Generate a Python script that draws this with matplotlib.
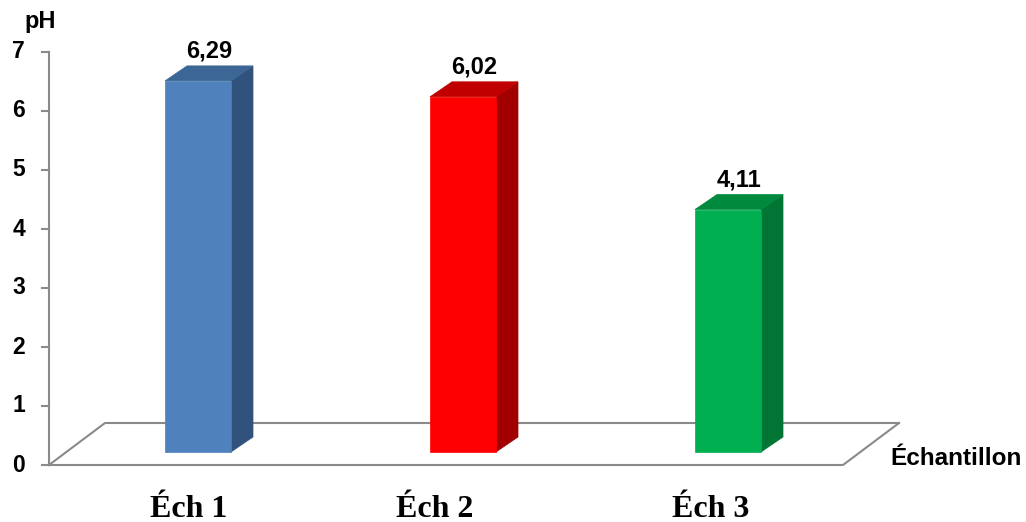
import numpy as np
import matplotlib.pyplot as plt
from matplotlib.patches import Polygon

# --- data ---
categories = ["Éch 1", "Éch 2", "Éch 3"]
ph_values = [6.29, 6.02, 4.11]
value_labels = ["6,29", "6,02", "4,11"]
y_ticks = [0, 1, 2, 3, 4, 5, 6, 7]

# face colours: front, side, top
front_cols = ["#4F81BD", "#FF0000", "#00B050"]
side_cols = ["#30527C", "#A20000", "#007534"]
top_cols = ["#3B6695", "#C00000", "#008A3E"]

# --- layout (pixel sizes converted to data units) ---
PX_X = 265.0   # px per category step
PX_Y = 59.0    # px per pH unit
W, H, DPI = 1026, 522, 100

def px(dx):
    return dx / PX_X

def py(dy):
    return dy / PX_Y

bar_w = px(66)
bar_base = py(13)
bar_dx, bar_dy = px(22), py(15)
floor_x0, floor_x1 = px(49 - 198), px(843 - 198)
floor_dx, floor_dy = px(56), py(42)
grey = "#8A8A8A"
sans = "Liberation Sans"

fig = plt.figure(figsize=(W / DPI, H / DPI), dpi=DPI)
ax = fig.add_axes([0, 0, 1, 1])
ax.set_xlim(px(-198), px(W - 198))
ax.set_ylim(py(-(H - 465)), py(465))
ax.axis("off")

# floor
ax.plot([floor_x0, floor_x1, floor_x1 + floor_dx], [0, 0, floor_dy], color=grey, lw=1.5, zorder=1)
ax.plot([floor_x0, floor_x0 + floor_dx, floor_x1 + floor_dx], [0, floor_dy, floor_dy], color=grey, lw=1.5, zorder=1)

# value axis
ax.plot([floor_x0, floor_x0], [0, y_ticks[-1]], color=grey, lw=1.5, zorder=1)
for t in y_ticks:
    ax.plot([floor_x0 - px(7), floor_x0], [t, t], color=grey, lw=1.5, zorder=1)
    ax.text(px(25 - 198), t, str(t), ha="right", va="center",
            fontsize=16.5, fontweight="bold", family=sans)

# bars
for i, v in enumerate(ph_values):
    x0 = i - bar_w / 2
    x1 = i + bar_w / 2
    y0 = bar_base
    y1 = bar_base + v
    front = Polygon([(x0, y0), (x1, y0), (x1, y1), (x0, y1)], closed=True,
                    facecolor=front_cols[i], edgecolor=front_cols[i], lw=0.5, zorder=3)
    side = Polygon([(x1, y0), (x1 + bar_dx, y0 + bar_dy), (x1 + bar_dx, y1 + bar_dy), (x1, y1)],
                   closed=True, facecolor=side_cols[i], edgecolor=side_cols[i], lw=0.5, zorder=3)
    top = Polygon([(x0, y1), (x0 + bar_dx, y1 + bar_dy), (x1 + bar_dx, y1 + bar_dy), (x1, y1)],
                  closed=True, facecolor=top_cols[i], edgecolor=top_cols[i], lw=0.5, zorder=3)
    for p in (side, top, front):
        ax.add_patch(p)
    ax.text(i + bar_dx / 2, y1 + bar_dy + py(8.5), value_labels[i], ha="center", va="baseline",
            fontsize=17, fontweight="bold", family=sans)

# category labels (the text boxes sit slightly left of the bars)
label_shift = [-9, -28, -17]
for i, c in enumerate(categories):
    ax.text(i + px(label_shift[i]), py(-52), c, ha="center", va="baseline",
            fontsize=23, fontweight="bold", family="Liberation Serif")

ax.text(px(40 - 198), py(465 - 28), "pH", ha="center", va="baseline",
        fontsize=17, fontweight="bold", family=sans)
ax.text(px(890 - 198), 0, "Échantillon", ha="left", va="baseline",
        fontsize=17.5, fontweight="bold", family=sans)

fig.savefig("out.png", dpi=DPI)
